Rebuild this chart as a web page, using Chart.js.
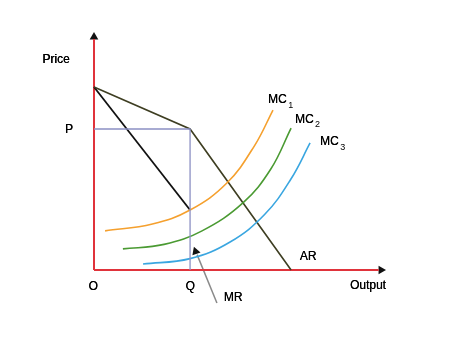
<!DOCTYPE html>
<html>
<head>
<meta charset="utf-8">
<script src="https://cdn.jsdelivr.net/npm/chart.js@4.4.1/dist/chart.umd.min.js"></script>
<style>
  html, body { margin: 0; padding: 0; background: #fff; }
  #wrap { width: 474px; height: 352px; }
</style>
</head>
<body>
<div id="wrap"><canvas id="kinkGraph"></canvas></div>
<script>
// kinked demand curve (output 0..100, price 0..100)
var AR_CURVE = [{x: 0, y: 77.2}, {x: 32.9, y: 59.5}, {x: 67.5, y: 0}];
var MR_CURVE = [{x: 0, y: 77.2}, {x: 32.9, y: 25.3}];
var P_LINE = [{x: 0, y: 59.5}, {x: 32.9, y: 59.5}, {x: 32.9, y: 0}];

var MC1 = [
    {x: 3.8, y: 16.5}, {x: 20.0, y: 19.4}, {x: 32.9, y: 25.3},
    {x: 45.5, y: 36.7}, {x: 55.0, y: 52.5}, {x: 61.3, y: 67.5}
];
var MC2 = [
    {x: 9.9, y: 8.9}, {x: 24.0, y: 10.8}, {x: 37.0, y: 16.5},
    {x: 51.0, y: 28.3}, {x: 60.5, y: 42.5}, {x: 67.5, y: 59.9}
];
var MC3 = [
    {x: 16.8, y: 2.5}, {x: 32.9, y: 4.8}, {x: 46.6, y: 11.8},
    {x: 58.5, y: 23.5}, {x: 67.5, y: 38.5}, {x: 74.0, y: 53.6}
];

var Y_AXIS = [{x: 0, y: 0}, {x: 0, y: 97.5}];
var X_AXIS = [{x: 0, y: 0}, {x: 97.5, y: 0}];
var MR_POINTER = [{x: 42.1, y: -13.9}, {x: 35.3, y: 6.5}];

// text labels: [text, subscript, x, y, align]
var LABELS = [
    ['Price', '', -13.0, 88.6, 'center'],
    ['P', '', -8.6, 59.1, 'center'],
    ['O', '', -0.3, -7.2, 'center'],
    ['Q', '', 32.9, -7.2, 'center'],
    ['Output', '', 93.8, -6.8, 'center'],
    ['MR', '', 47.6, -11.8, 'center'],
    ['AR', '', 73.3, 5.5, 'center'],
    ['MC', '1', 59.6, 71.7, 'left'],
    ['MC', '2', 68.8, 63.3, 'left'],
    ['MC', '3', 77.4, 54.0, 'left']
];

var textPlugin = {
    id: 'textLabels',
    afterDatasetsDraw: function(chart) {
        var ctx = chart.ctx;
        var xs = chart.scales.x;
        var ys = chart.scales.y;
        ctx.save();
        ctx.fillStyle = '#000';
        ctx.textBaseline = 'middle';
        LABELS.forEach(function(l) {
            var px = xs.getPixelForValue(l[2]);
            var py = ys.getPixelForValue(l[3]);
            ctx.font = '12px "Liberation Sans", Arial, sans-serif';
            ctx.textAlign = l[4];
            ctx.fillText(l[0], px, py);
            ctx.fillText(l[0], px + 0.3, py);
            if (l[1]) {
                var w = ctx.measureText(l[0]).width;
                ctx.font = '9px "Liberation Sans", Arial, sans-serif';
                ctx.textAlign = 'left';
                ctx.fillText(l[1], px + w + 1.5, py + 5);
            }
        });
        ctx.restore();
    }
};

function lineSet(data, color, width, smooth) {
    return {
        data: data,
        borderColor: color,
        borderWidth: width,
        pointRadius: 0,
        fill: false,
        showLine: true,
        clip: false,
        tension: smooth ? 0.4 : 0
    };
}

function arrowSet(point, rotation, color) {
    return {
        data: [point],
        pointStyle: 'triangle',
        pointRadius: 5,
        pointRotation: rotation,
        pointBackgroundColor: color,
        pointBorderWidth: 0,
        showLine: false,
        clip: false
    };
}

var graph = new Chart(document.getElementById('kinkGraph'), {
    type: 'scatter',
    data: {
        datasets: [
            lineSet(P_LINE, '#8c90c4', 1.3, false),
            lineSet(MC1, '#f5a02e', 1.6, true),
            lineSet(MC2, '#4a9a32', 1.6, true),
            lineSet(MC3, '#3aa6e0', 1.6, true),
            lineSet(AR_CURVE, '#3e3e22', 1.6, false),
            lineSet(MR_CURVE, '#111111', 1.8, false),
            lineSet(Y_AXIS, '#e0333b', 2, false),
            lineSet(X_AXIS, '#e0333b', 2, false),
            lineSet(MR_POINTER, '#8a8a8a', 1.5, false),
            arrowSet({x: 0, y: 98.3}, 0, '#111'),
            arrowSet({x: 98.3, y: 0}, 90, '#111'),
            arrowSet({x: 34.8, y: 7.8}, -20, '#111')
        ]
    },
    options: {
        responsive: true,
        maintainAspectRatio: false,
        animation: false,
        layout: {padding: {left: 94, right: 88, top: 33, bottom: 82}},
        plugins: {legend: {display: false}, tooltip: {enabled: false}},
        scales: {
            x: {type: 'linear', min: 0, max: 100, display: false},
            y: {type: 'linear', min: 0, max: 100, display: false}
        }
    },
    plugins: [textPlugin]
});
</script>
</body>
</html>
